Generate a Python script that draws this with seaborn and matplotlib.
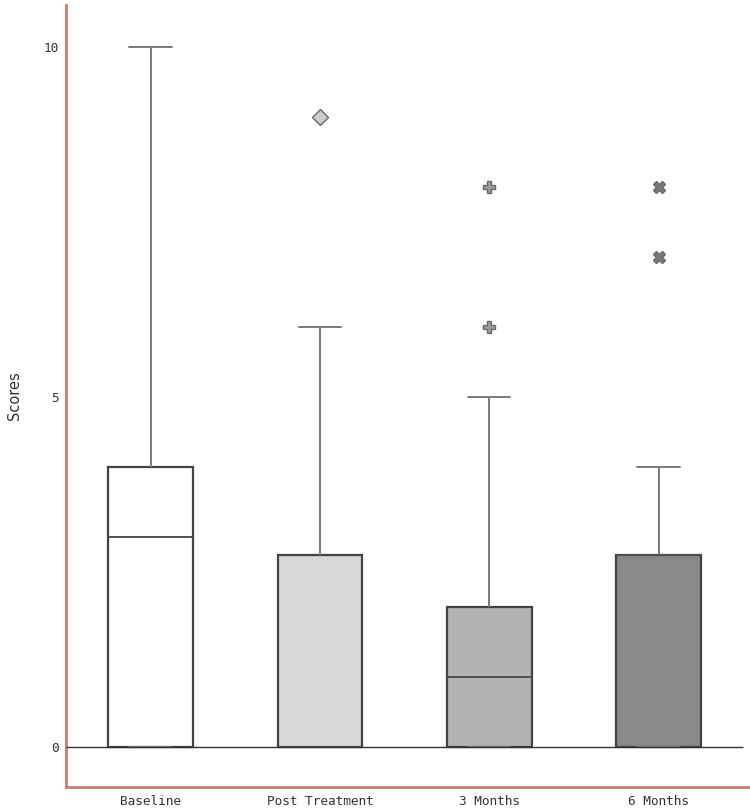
import matplotlib
matplotlib.use("Agg")
import matplotlib.pyplot as plt
import seaborn as sns
import pandas as pd

# raw scores per time point (chosen to reproduce the box statistics)
categories = ["Baseline", "Post Treatment", "3 Months", "6 Months"]
baseline = [0, 0, 0, 2, 3, 4, 4, 4, 10]
post_treatment = [0, 0, 0, 0, 0, 1, 2.75, 6, 9]
three_months = [0, 0, 0, 0, 1, 1, 1, 2, 2, 2, 5, 6, 8]
six_months = [0, 0, 0, 0, 1, 2, 2.75, 2.75, 2.75, 2.75, 4, 7, 8]

box_colors = ["#ffffff", "#d8d8d8", "#b3b3b3", "#8b8788"]
flier_markers = ["D", "D", "P", "X"]
flier_fills = ["#cccccc", "#cccccc", "#9a9a9a", "#7a7a7a"]

rows = []
for name, vals in zip(categories, [baseline, post_treatment, three_months, six_months]):
    for v in vals:
        rows.append({"time": name, "score": v})
df = pd.DataFrame(rows)

sns.set_style("white")
fig = plt.figure(figsize=(7.5, 8.1), dpi=100)
ax = fig.add_axes([0.088, 0.0284, 0.912, 0.9654])

sns.boxplot(data=df, x="time", y="score", hue="time", order=categories,
            hue_order=categories, palette=box_colors, legend=False,
            width=0.5, linewidth=1.6, linecolor="#444444",
            whiskerprops={"color": "#7a7a7a", "linewidth": 1.4},
            capprops={"color": "#7a7a7a", "linewidth": 1.4},
            medianprops={"color": "#505050", "linewidth": 1.4},
            flierprops={"markersize": 8}, ax=ax)

# style the outliers box by box
fliers = [ln for ln in ax.lines if ln.get_linestyle() == "None"]
for ln, m, c in zip(fliers, flier_markers, flier_fills):
    ln.set_marker(m)
    ln.set_markerfacecolor(c)
    ln.set_markeredgecolor("#6a6a6a")
    ln.set_markersize(8)
    ln.set_markeredgewidth(1.0)

ax.hlines(0, -0.5, 3.5, color="#333333", linewidth=1, zorder=5)

ax.set_xlim(-0.5, 3.54)
ax.set_ylim(-0.571, 10.6)
ax.set_yticks([0, 5, 10])
ax.set_xlabel("")
ax.set_ylabel("Scores", fontsize=10.5, color="#333333", family="DejaVu Sans", labelpad=16)

for lab in ax.get_xticklabels() + ax.get_yticklabels():
    lab.set_family("DejaVu Sans Mono")
    lab.set_fontsize(9.2)
    lab.set_color("#333333")
ax.tick_params(axis="both", length=0)
ax.tick_params(axis="x", pad=6)
ax.tick_params(axis="y", pad=5)

for s in ["top", "right"]:
    ax.spines[s].set_visible(False)
for s in ["left", "bottom"]:
    ax.spines[s].set_color("#c9806c")
    ax.spines[s].set_linewidth(2)

fig.savefig("out.png", dpi=100)
